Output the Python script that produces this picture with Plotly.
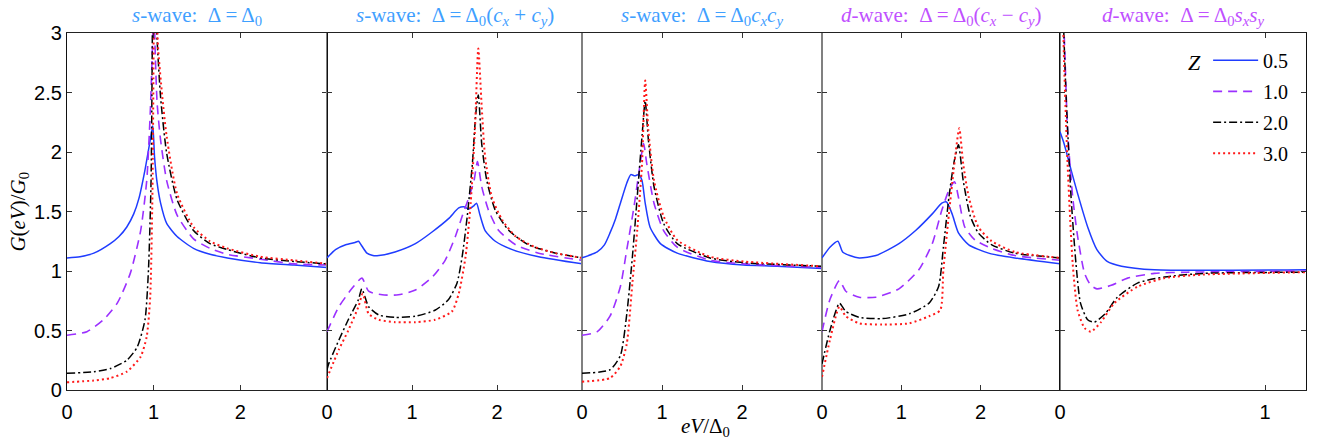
import plotly.graph_objects as go
from plotly.subplots import make_subplots

# barrier strengths
z_labels = ["0.5", "1.0", "2.0", "3.0"]

# panel titles
titles = [
    "<i>s</i>-wave:  Δ = Δ<sub>0</sub>",
    "<i>s</i>-wave:  Δ = Δ<sub>0</sub>(<i>c<sub>x</sub></i> + <i>c<sub>y</sub></i>)",
    "<i>s</i>-wave:  Δ = Δ<sub>0</sub><i>c<sub>x</sub>c<sub>y</sub></i>",
    "<i>d</i>-wave:  Δ = Δ<sub>0</sub>(<i>c<sub>x</sub></i> − <i>c<sub>y</sub></i>)",
    "<i>d</i>-wave:  Δ = Δ<sub>0</sub><i>s<sub>x</sub>s<sub>y</sub></i>",
]

# panel 1: s-wave, constant gap
p1_x_05 = [0, 0.15, 0.31, 0.5, 0.6, 0.69, 0.77, 0.83, 0.9, 0.96, 0.99, 1.01, 1.04, 1.08, 1.15, 1.27, 1.46, 1.65, 1.85, 2.23, 2.62, 3.0]
p1_g_05 = [1.11, 1.12, 1.15, 1.23, 1.29, 1.37, 1.48, 1.61, 1.85, 2.10, 2.22, 1.96, 1.74, 1.57, 1.40, 1.29, 1.19, 1.14, 1.11, 1.07, 1.05, 1.03]
p1_x_10 = [0, 0.23, 0.42, 0.58, 0.73, 0.85, 0.92, 0.96, 0.99, 1.0, 1.012, 1.04, 1.08, 1.15, 1.27, 1.46, 1.65, 1.85, 2.23, 2.62, 3.0]
p1_g_10 = [0.46, 0.49, 0.59, 0.73, 0.98, 1.34, 1.76, 2.32, 3.0, 3.8, 3.0, 2.41, 2.10, 1.76, 1.47, 1.27, 1.19, 1.14, 1.10, 1.06, 1.05]
p1_x_20 = [0, 0.31, 0.5, 0.69, 0.81, 0.9, 0.94, 0.97, 0.985, 1.0, 1.02, 1.04, 1.08, 1.15, 1.27, 1.46, 1.65, 1.85, 2.23, 2.62, 3.0]
p1_g_20 = [0.14, 0.154, 0.18, 0.25, 0.36, 0.59, 1.01, 1.76, 3.0, 5.0, 3.3, 2.94, 2.46, 1.99, 1.60, 1.34, 1.23, 1.18, 1.11, 1.08, 1.06]
p1_x_30 = [0, 0.31, 0.5, 0.69, 0.85, 0.92, 0.96, 0.985, 1.0, 1.01, 1.03, 1.05, 1.1, 1.15, 1.27, 1.46, 1.65, 1.85, 2.23, 2.62, 3.0]
p1_g_30 = [0.065, 0.08, 0.10, 0.154, 0.28, 0.45, 0.78, 1.62, 3.0, 6.0, 3.4, 2.89, 2.46, 2.13, 1.65, 1.37, 1.25, 1.19, 1.12, 1.09, 1.06]

# panel 2: s-wave, cx + cy
p2_x_05 = [0, 0.1, 0.22, 0.33, 0.37, 0.41, 0.47, 0.54, 0.61, 0.8, 1.04, 1.24, 1.43, 1.55, 1.61, 1.67, 1.73, 1.76, 1.8, 1.86, 1.98, 2.18, 2.49, 3.0]
p2_g_05 = [1.11, 1.18, 1.22, 1.24, 1.25, 1.21, 1.15, 1.13, 1.13, 1.16, 1.23, 1.33, 1.44, 1.53, 1.54, 1.52, 1.55, 1.57, 1.47, 1.34, 1.25, 1.18, 1.12, 1.06]
p2_x_10 = [0, 0.14, 0.29, 0.41, 0.49, 0.65, 0.84, 1.04, 1.24, 1.39, 1.51, 1.59, 1.67, 1.73, 1.77, 1.82, 1.9, 2.02, 2.22, 2.49, 3.0]
p2_g_10 = [0.49, 0.70, 0.85, 0.94, 0.83, 0.80, 0.80, 0.84, 0.95, 1.09, 1.29, 1.46, 1.62, 1.76, 1.92, 1.71, 1.51, 1.34, 1.22, 1.15, 1.09]
p2_x_20 = [0, 0.02, 0.14, 0.25, 0.37, 0.41, 0.49, 0.61, 0.8, 1.04, 1.27, 1.43, 1.53, 1.59, 1.65, 1.71, 1.75, 1.78, 1.82, 1.88, 1.98, 2.14, 2.37, 2.69, 3.0]
p2_g_20 = [0.17, 0.22, 0.42, 0.59, 0.76, 0.85, 0.70, 0.63, 0.61, 0.62, 0.67, 0.76, 0.90, 1.12, 1.46, 1.90, 2.32, 2.48, 2.07, 1.76, 1.51, 1.34, 1.22, 1.15, 1.11]
p2_x_30 = [0, 0.14, 0.25, 0.37, 0.42, 0.49, 0.61, 0.8, 1.04, 1.27, 1.47, 1.55, 1.63, 1.69, 1.74, 1.78, 1.82, 1.86, 1.94, 2.06, 2.22, 2.45, 2.69, 3.0]
p2_g_30 = [0.10, 0.34, 0.50, 0.70, 0.81, 0.64, 0.59, 0.57, 0.57, 0.59, 0.66, 0.81, 1.12, 1.57, 2.18, 2.87, 2.38, 1.96, 1.62, 1.43, 1.29, 1.20, 1.15, 1.11]

# panel 3: s-wave, cx*cy
p3_x_05 = [0, 0.19, 0.28, 0.35, 0.42, 0.48, 0.56, 0.61, 0.66, 0.71, 0.75, 0.79, 0.85, 0.98, 1.19, 1.6, 2.02, 2.44, 3.0]
p3_g_05 = [1.11, 1.16, 1.22, 1.32, 1.44, 1.57, 1.74, 1.81, 1.80, 1.81, 1.76, 1.57, 1.37, 1.23, 1.15, 1.08, 1.05, 1.04, 1.02]
p3_x_10 = [0, 0.19, 0.35, 0.48, 0.56, 0.65, 0.71, 0.77, 0.81, 0.9, 1.02, 1.19, 1.6, 2.02, 3.0]
p3_g_10 = [0.46, 0.49, 0.62, 0.87, 1.18, 1.54, 1.82, 2.07, 1.90, 1.57, 1.34, 1.20, 1.09, 1.06, 1.03]
p3_x_20 = [0, 0.35, 0.48, 0.56, 0.63, 0.69, 0.75, 0.79, 0.83, 0.9, 1.02, 1.19, 1.6, 2.02, 3.0]
p3_g_20 = [0.14, 0.17, 0.29, 0.64, 1.12, 1.62, 2.13, 2.43, 2.10, 1.71, 1.40, 1.23, 1.11, 1.07, 1.04]
p3_x_30 = [0, 0.35, 0.48, 0.56, 0.63, 0.69, 0.75, 0.79, 0.83, 0.9, 1.02, 1.19, 1.6, 2.02, 3.0]
p3_g_30 = [0.07, 0.10, 0.20, 0.39, 0.90, 1.34, 1.90, 2.60, 2.18, 1.76, 1.46, 1.26, 1.12, 1.08, 1.04]

# panel 4: d-wave, cx - cy
p4_x_05 = [0, 0.1, 0.2, 0.26, 0.35, 0.47, 0.68, 0.97, 1.18, 1.39, 1.51, 1.57, 1.64, 1.72, 1.85, 2.1, 2.43, 3.0]
p4_g_05 = [1.11, 1.20, 1.25, 1.16, 1.13, 1.11, 1.13, 1.23, 1.34, 1.48, 1.57, 1.58, 1.48, 1.32, 1.22, 1.15, 1.11, 1.06]
p4_x_10 = [0, 0.1, 0.22, 0.3, 0.47, 0.68, 0.97, 1.22, 1.39, 1.51, 1.6, 1.67, 1.72, 1.8, 1.93, 2.14, 2.43, 3.0]
p4_g_10 = [0.49, 0.76, 0.92, 0.83, 0.78, 0.78, 0.85, 1.01, 1.23, 1.51, 1.68, 1.75, 1.62, 1.37, 1.26, 1.19, 1.13, 1.09]
p4_x_20 = [0, 0.1, 0.22, 0.3, 0.47, 0.76, 1.1, 1.35, 1.47, 1.53, 1.6, 1.66, 1.72, 1.78, 1.87, 1.97, 2.14, 2.43, 3.0]
p4_g_20 = [0.22, 0.50, 0.73, 0.66, 0.61, 0.60, 0.64, 0.73, 0.87, 1.20, 1.62, 1.90, 2.06, 1.76, 1.46, 1.32, 1.22, 1.15, 1.11]
p4_x_30 = [0, 0.1, 0.22, 0.3, 0.47, 0.76, 1.1, 1.35, 1.49, 1.53, 1.6, 1.66, 1.73, 1.78, 1.85, 1.97, 2.14, 2.43, 3.0]
p4_g_30 = [0.11, 0.42, 0.70, 0.62, 0.56, 0.55, 0.56, 0.62, 0.67, 1.01, 1.48, 1.85, 2.20, 1.90, 1.62, 1.37, 1.25, 1.16, 1.11]

# panel 5: d-wave, sx*sy
p5_x_05 = [0, 0.02, 0.054, 0.086, 0.135, 0.18, 0.23, 0.3, 0.46, 1.2]
p5_g_05 = [2.17, 2.07, 1.85, 1.65, 1.37, 1.18, 1.08, 1.04, 1.01, 1.01]
p5_x_10 = [0, 0.02, 0.037, 0.062, 0.086, 0.12, 0.15, 0.18, 0.25, 0.33, 0.46, 0.62, 1.2]
p5_g_10 = [3.6, 3.0, 2.18, 1.62, 1.29, 0.98, 0.88, 0.85, 0.88, 0.94, 0.98, 0.99, 1.0]
p5_x_20 = [0, 0.015, 0.03, 0.054, 0.078, 0.1, 0.135, 0.167, 0.22, 0.28, 0.38, 0.51, 0.7, 1.2]
p5_g_20 = [4.5, 3.2, 2.46, 1.62, 1.06, 0.73, 0.59, 0.57, 0.64, 0.78, 0.90, 0.95, 0.98, 0.99]
p5_x_30 = [0, 0.01, 0.02, 0.037, 0.062, 0.086, 0.12, 0.15, 0.2, 0.265, 0.38, 0.51, 0.7, 1.2]
p5_g_30 = [5.0, 3.5, 2.75, 1.9, 1.06, 0.67, 0.52, 0.49, 0.57, 0.73, 0.87, 0.94, 0.97, 0.99]

panels = [
    [(p1_x_05, p1_g_05), (p1_x_10, p1_g_10), (p1_x_20, p1_g_20), (p1_x_30, p1_g_30)],
    [(p2_x_05, p2_g_05), (p2_x_10, p2_g_10), (p2_x_20, p2_g_20), (p2_x_30, p2_g_30)],
    [(p3_x_05, p3_g_05), (p3_x_10, p3_g_10), (p3_x_20, p3_g_20), (p3_x_30, p3_g_30)],
    [(p4_x_05, p4_g_05), (p4_x_10, p4_g_10), (p4_x_20, p4_g_20), (p4_x_30, p4_g_30)],
    [(p5_x_05, p5_g_05), (p5_x_10, p5_g_10), (p5_x_20, p5_g_20), (p5_x_30, p5_g_30)],
]

colors = ["#1f3cff", "#9b30ff", "#000000", "#ff1a1a"]
dashes = ["solid", "9px,6px", "8px,3px,2px,3px", "2px,3px"]
widths = [1.5, 1.6, 1.5, 2.0]
title_colors = ["#3fa0ff", "#3fa0ff", "#3fa0ff", "#c050ff", "#c050ff"]
serif = "Liberation Serif, DejaVu Serif"

fig = make_subplots(rows=1, cols=5, shared_yaxes=True, horizontal_spacing=0,
                    column_widths=[260, 255, 240, 238, 246])

for p, curves in enumerate(panels):
    for k, (xs, gs) in enumerate(curves):
        fig.add_trace(go.Scatter(
            x=xs, y=gs, mode="lines", name=z_labels[k],
            legendgroup=z_labels[k], showlegend=(p == 0),
            line=dict(color=colors[k], dash=dashes[k], width=widths[k],
                      shape="spline", smoothing=0.6),
        ), row=1, col=p + 1)

tickfont = dict(family="Liberation Sans, Arial", size=20, color="black")
for p in range(5):
    xr = [0, 1.2] if p == 4 else [0, 3]
    ycol = "#111" if p in (0, 4) else "#808080"
    fig.update_xaxes(range=xr, tickvals=[0, 1] if p == 4 else [0, 1, 2],
                     ticks="inside", ticklen=5, tickcolor="#333", ticklabelstandoff=4,
                     showline=True, linecolor="#222", linewidth=1.2, mirror="ticks",
                     showgrid=False, zeroline=False, tickfont=tickfont,
                     row=1, col=p + 1)
    fig.update_yaxes(range=[0, 3], dtick=0.5, ticks="inside", ticklen=5, tickcolor="#333",
                     showline=True, linecolor=ycol, linewidth=1.3, mirror="ticks",
                     showgrid=False, zeroline=False, tickfont=tickfont,
                     showticklabels=(p == 0), row=1, col=p + 1)

# panel titles sit in the thin top strip
for p in range(5):
    ax = "x" if p == 0 else f"x{p + 1}"
    fig.add_annotation(text=titles[p], xref=f"{ax} domain", yref="paper",
                       x=0.5, y=1, yanchor="middle", yshift=17, showarrow=False,
                       font=dict(family=serif, size=21, color=title_colors[p]))

fig.add_annotation(text="<i>G</i>(<i>eV</i>)/<i>G</i><sub>0</sub>", xref="paper", yref="paper",
                   x=-0.0395, y=0.5, textangle=-90, showarrow=False, xanchor="center",
                   font=dict(family=serif, size=21, color="black"))
fig.add_annotation(text="<i>eV</i>/Δ<sub>0</sub>", xref="paper", yref="paper",
                   x=0.515, y=0, yanchor="top", yshift=-22, showarrow=False,
                   font=dict(family=serif, size=21, color="black"))
fig.add_annotation(text="<i>Z</i>", xref="paper", yref="paper",
                   x=0.917, y=0.916, xanchor="right", yanchor="middle", showarrow=False,
                   font=dict(family=serif, size=22, color="black"))

fig.update_layout(
    width=1329, height=439,
    margin=dict(l=67, r=23, t=33, b=49),
    plot_bgcolor="white", paper_bgcolor="white",
    legend=dict(x=0.921, y=0.978, xanchor="left", yanchor="top",
                bgcolor="rgba(0,0,0,0)", tracegroupgap=2, itemwidth=45,
                font=dict(family=serif, size=20, color="black")),
)

# drop the page's default body margin so the figure fills the window
fig.write_html("out.html", config={"displayModeBar": False},
               post_script="document.body.style.margin = '0';")
